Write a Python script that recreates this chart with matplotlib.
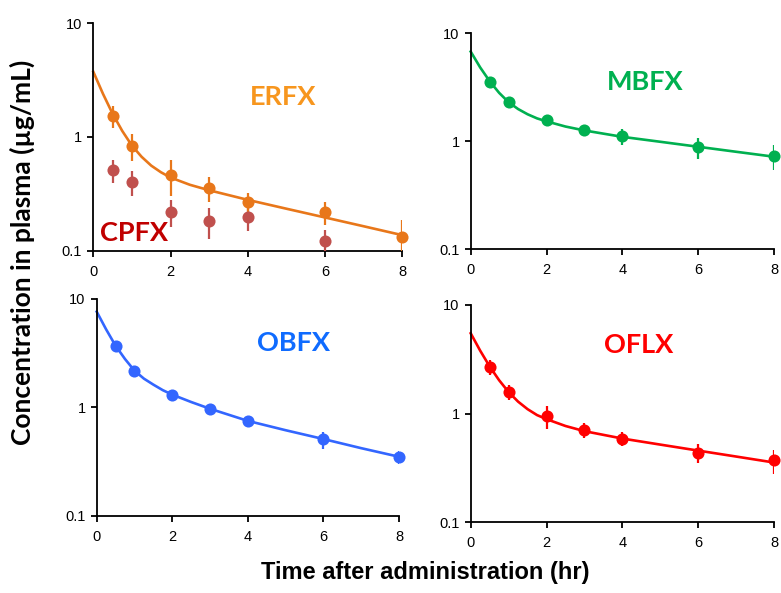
import matplotlib
matplotlib.use("Agg")
import matplotlib.pyplot as plt

# ---------------- data ----------------
t_obs = [0.5, 1, 2, 3, 4, 6, 8]
t_cpfx = [0.5, 1, 2, 3, 4, 6]
t_fit = [0, 0.25, 0.5, 0.75, 1, 1.25, 1.5, 1.75, 2, 2.5, 3, 4, 5, 6, 7, 8]

erfx_mean = [1.53, 0.84, 0.466, 0.358, 0.27, 0.218, 0.132]
erfx_sd = [0.34, 0.22, 0.165, 0.09, 0.05, 0.05, 0.054]
erfx_fit = [3.75, 2.40, 1.60, 1.13, 0.84, 0.67, 0.56, 0.49, 0.44, 0.38, 0.34, 0.28, 0.234, 0.196, 0.164, 0.137]

cpfx_mean = [0.513, 0.40, 0.22, 0.182, 0.199, 0.122]
cpfx_sd = [0.12, 0.10, 0.06, 0.055, 0.05, 0.03]

mbfx_mean = [3.57, 2.30, 1.58, 1.26, 1.11, 0.88, 0.73]
mbfx_sd = [0.40, 0.25, 0.15, 0.10, 0.19, 0.20, 0.19]
mbfx_fit = [6.77, 4.83, 3.60, 2.81, 2.30, 1.99, 1.78, 1.63, 1.53, 1.37, 1.26, 1.10, 0.99, 0.89, 0.80, 0.72]

obfx_mean = [3.66, 2.18, 1.30, 0.966, 0.743, 0.507, 0.348]
obfx_sd = [0.25, 0.15, 0.08, 0.06, 0.05, 0.09, 0.045]
obfx_fit = [7.64, 5.24, 3.70, 2.79, 2.18, 1.84, 1.62, 1.44, 1.31, 1.12, 0.97, 0.75, 0.615, 0.51, 0.42, 0.35]

oflx_mean = [2.71, 1.58, 0.952, 0.713, 0.589, 0.438, 0.372]
oflx_sd = [0.42, 0.25, 0.23, 0.11, 0.09, 0.09, 0.095]
oflx_fit = [5.49, 3.80, 2.72, 2.03, 1.58, 1.29, 1.10, 0.97, 0.89, 0.77, 0.69, 0.59, 0.519, 0.457, 0.403, 0.355]

x_ticks = [0, 2, 4, 6, 8]
y_ticks = [0.1, 1, 10]
y_ticklabels = ["0.1", "1", "10"]

# ---------------- styling ----------------
W, H = 781, 593
fig = plt.figure(figsize=(W / 100, H / 100), dpi=100)

tick_font = {"family": "Liberation Sans", "size": 10.5}
label_family = ["Lato", "DejaVu Sans"]


def make_ax(x0, x1, y0, y1):
    ax = fig.add_axes([x0 / W, 1 - y1 / H, (x1 - x0) / W, (y1 - y0) / H])
    ax.set_yscale("log")
    ax.set_xlim(0, 8)
    ax.set_ylim(0.1, 10)
    ax.set_xticks(x_ticks)
    ax.set_xticklabels([str(v) for v in x_ticks], **tick_font)
    ax.set_yticks(y_ticks)
    ax.set_yticklabels(y_ticklabels, **tick_font)
    ax.yaxis.set_minor_locator(matplotlib.ticker.NullLocator())
    for s in ["top", "right"]:
        ax.spines[s].set_visible(False)
    for s in ["left", "bottom"]:
        ax.spines[s].set_linewidth(1.3)
        ax.spines[s].set_color("black")
    ax.tick_params(axis="both", direction="out", length=4, width=1.3)
    ax.tick_params(axis="x", pad=6)
    ax.tick_params(axis="y", pad=4)
    ax.patch.set_alpha(0)
    return ax


def draw(ax, t, mean, sd, color, fit=None):
    if fit is not None:
        ax.plot(t_fit, fit, color=color, lw=1.9, zorder=2,
                clip_on=False, solid_joinstyle="round")
    ax.errorbar(t, mean, yerr=sd, fmt="none", ecolor=color, elinewidth=1.6,
                capsize=0, zorder=3)
    ax.plot(t, mean, "o", color=color, ms=8.7, mec="none", zorder=4, clip_on=False)


def panel_label(x, y, s, color):
    fig.text(x / W, 1 - y / H, s, ha="center", va="center", color=color,
             fontsize=19.5, fontweight="bold", family=label_family)


# panel 1: ERFX + CPFX
ax1 = make_ax(93.3, 402.3, 23.3, 250.7)
draw(ax1, t_cpfx, cpfx_mean, cpfx_sd, "#C0504D")
draw(ax1, t_obs, erfx_mean, erfx_sd, "#E8771A", fit=erfx_fit)
panel_label(283, 97, "ERFX", "#F7961E")
panel_label(134.5, 233, "CPFX", "#C00000")

# panel 2: MBFX
ax2 = make_ax(470.7, 774, 33.3, 249.3)
draw(ax2, t_obs, mbfx_mean, mbfx_sd, "#00B050", fit=mbfx_fit)
panel_label(645, 82, "MBFX", "#00B050")

# panel 3: OBFX
ax3 = make_ax(96.7, 399, 299, 515.7)
draw(ax3, t_obs, obfx_mean, obfx_sd, "#3366FF", fit=obfx_fit)
panel_label(294, 343, "OBFX", "#0F6BFF")

# panel 4: OFLX
ax4 = make_ax(470.7, 774, 305, 522.3)
draw(ax4, t_obs, oflx_mean, oflx_sd, "#FF0000", fit=oflx_fit)
panel_label(638.5, 345, "OFLX", "#FF0000")

# shared labels
fig.text(425 / W, 1 - 573 / H, "Time after administration (hr)", ha="center", va="center",
         fontsize=17, fontweight="bold", family=["Liberation Sans", "DejaVu Sans"])
fig.text(22 / W, 1 - 252 / H, "Concentration in plasma (\u00b5g/mL)", ha="center",
         va="center", rotation=90, fontsize=19, fontweight="bold", family=label_family)

fig.savefig("out.png", dpi=100)
